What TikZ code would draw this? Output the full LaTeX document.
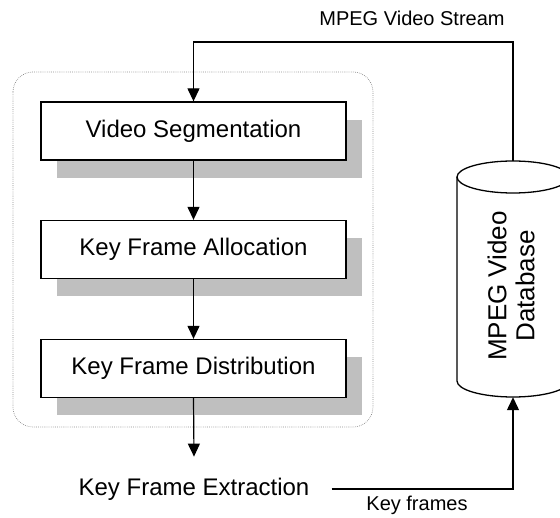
\documentclass[tikz,border=0pt]{standalone}
\usepackage{fontspec}
\setmainfont{Liberation Sans}
\usetikzlibrary{arrows.meta,shadows}
\begin{document}
\begin{tikzpicture}[x=1pt,y=-1pt,
  proc/.style={draw, line width=1.3pt, fill=white, minimum width=305pt, minimum height=58pt,
    inner sep=0pt, font=\fontsize{24}{28}\selectfont,
    drop shadow={shadow xshift=16pt, shadow yshift=-18pt, fill=black!25, opacity=1}},
  arr/.style={line width=1.2pt, -{Triangle[length=13pt,width=12pt]}},
  lbl/.style={font=\fontsize{20}{24}\selectfont, inner sep=0pt},
  dbline/.style={line width=1.3pt},
]
\useasboundingbox (0,0) rectangle (560,518);
% grouping frame
\draw[black!45, line width=0.7pt, dash pattern=on 0.7pt off 1.2pt, rounded corners=20pt]
  (13,72) rectangle (373,427);
% process boxes
\node[proc] (seg)  at (193.5,131)   {Video Segmentation};
\node[proc] (alloc) at (193.5,249.5) {Key Frame Allocation};
\node[proc] (dist) at (193.5,368.5) {Key Frame Distribution};
% database cylinder
\node[minimum width=112pt, minimum height=236pt, inner sep=0pt] (db) at (513,279) {};
\begin{scope}
  \clip (0,0) rectangle (560,518);
  \draw[dbline] (457,177) -- (457,381) arc[start angle=180, end angle=0, x radius=56, y radius=16] -- (569,177);
  \draw[dbline] (513,177) ellipse [x radius=56, y radius=16];
\end{scope}
\node[rotate=90, align=center, font=\fontsize{26}{28}\selectfont, inner sep=0pt] (dbt) at (511,286) {MPEG Video\\Database};
% output text
\node[font=\fontsize{24}{28}\selectfont, inner sep=0pt] (kfe) at (194,489) {Key Frame Extraction};
% connectors
\coordinate (top) at (513,42);
\draw[arr] (db.north) -- (top) -| (seg.north);
\draw[arr] (seg.south) -- (alloc.north);
\draw[arr] (alloc.south) -- (dist.north);
\draw[arr] (dist.south) -- ([yshift=21pt]kfe.north);
\draw[arr] ([xshift=22pt]kfe.east) -| (db.south);
% labels
\node[lbl] (lstream) at (412,18.5) {MPEG Video Stream};
\node[lbl] (lkey) at (417,505) {Key frames};
\end{tikzpicture}
\end{document}
